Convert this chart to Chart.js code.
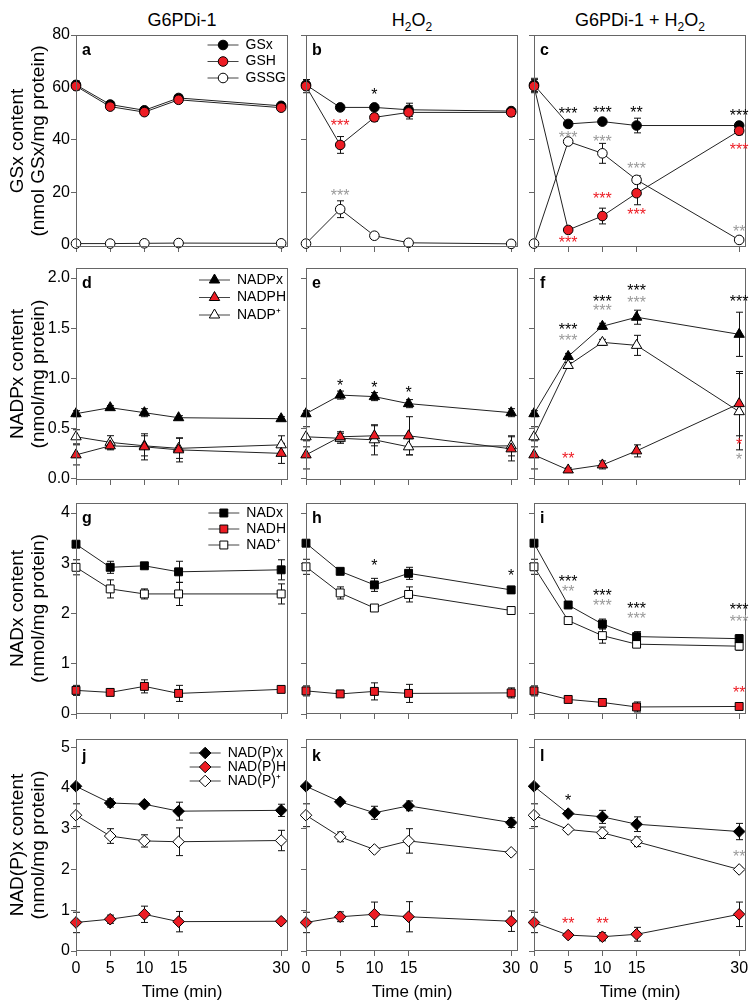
<!DOCTYPE html>
<html>
<head>
<meta charset="utf-8">
<script src="https://cdn.jsdelivr.net/npm/chart.js@4.4.0/dist/chart.umd.min.js"></script>
<style>
  html, body { margin: 0; padding: 0; background: #fff; }
  #fig { position: relative; width: 750px; height: 1005px; overflow: hidden;
         font-family: "Liberation Sans", Arial, sans-serif; }
  .head { position: absolute; top: 9px; width: 240px; text-align: center;
          font-size: 18px; line-height: 22px; color: #000; }
  .head sub { font-size: 12px; line-height: 0; }
  canvas { position: absolute; }
</style>
</head>
<body>
<div id="fig">
  <div class="head" style="left:62px">G6PDi-1</div>
  <div class="head" style="left:292px">H<sub>2</sub>O<sub>2</sub></div>
  <div class="head" style="left:520px">G6PDi-1 + H<sub>2</sub>O<sub>2</sub></div>
</div>
<script>
'use strict';

/* ===== data ===== */
const times = [0, 5, 10, 15, 30];
const xTicks = [0, 5, 10, 15, 30];

const gsTicks = [0, 20, 40, 60, 80];
const nadpTicks = [0, 0.5, 1.0, 1.5, 2.0];
const nadTicks = [0, 1, 2, 3, 4];
const nadpxTicks = [0, 1, 2, 3, 4, 5];

// a: G6PDi-1, glutathione
const aGSx = [61, 53.5, 51.3, 56, 53];
const aGSH = [60.5, 52.7, 50.6, 55.3, 52.3];
const aGSSG = [0.5, 0.5, 0.6, 0.7, 0.6];
const aGSxErr = [1.5, 1, 1, 1, 1];
const aGSHErr = [1.5, 1, 1, 1, 1];
const aGSSGErr = [0.2, 0.2, 0.2, 0.2, 0.2];

// b: H2O2
const bGSx = [61, 52.4, 52.4, 51.5, 51];
const bGSH = [60.5, 38.1, 48.6, 50.5, 50.5];
const bGSSG = [0.5, 13.6, 3.5, 0.8, 0.4];
const bGSxErr = [2, 1, 1, 2.5, 1];
const bGSHErr = [2.5, 3.2, 1.5, 2.5, 1.5];
const bGSSGErr = [0.3, 3.2, 0.8, 0.3, 0.2];
const bStars = [[10, 58.6, '*', 'k'], [5, 47, '***', 'r'], [5, 20.3, '***', 'g']];

// c: G6PDi-1 + H2O2
const cGSx = [61, 46.1, 47, 45.5, 45.5];
const cGSH = [60.5, 5.7, 11, 19.7, 43.5];
const cGSSG = [0.5, 39.4, 34.9, 24.8, 1.9];
const cGSxErr = [2.5, 1, 1, 2.8, 1.2];
const cGSHErr = [2.5, 1, 3, 4.4, 1.5];
const cGSSGErr = [0.3, 1, 3.8, 1.5, 0.5];
const cStars = [
  [5, 51.4, '***', 'k'], [10, 52, '***', 'k'], [15, 51.8, '**', 'k'], [30, 50.7, '***', 'k'],
  [5, 42.5, '***', 'g'], [10, 41, '***', 'g'], [15, 30.7, '***', 'g'], [30, 6.5, '**', 'g'],
  [5, 2.3, '***', 'r'], [10, 19.3, '***', 'r'], [15, 13, '***', 'r'], [30, 37.7, '***', 'r']
];

// d-f: NADP
const dX = [0.65, 0.71, 0.66, 0.61, 0.6];
const dH = [0.24, 0.33, 0.32, 0.29, 0.255];
const dOx = [0.42, 0.365, 0.33, 0.305, 0.34];
const dXErr = [0.03, 0.02, 0.04, 0.02, 0.02];
const dHErr = [0.1, 0.04, 0.13, 0.12, 0.1];
const dOxErr = [0.07, 0.066, 0.1, 0.1, 0.09];

const eX = [0.65, 0.835, 0.82, 0.75, 0.66];
const eH = [0.24, 0.42, 0.43, 0.43, 0.30];
const eOx = [0.42, 0.405, 0.39, 0.32, 0.33];
const eXErr = [0.03, 0.04, 0.04, 0.04, 0.04];
const eHErr = [0.14, 0.05, 0.1, 0.19, 0.12];
const eOxErr = [0.1, 0.05, 0.15, 0.08, 0.1];
const eStars = [[5, 0.97, '*', 'k'], [10, 0.95, '*', 'k'], [15, 0.9, '*', 'k']];

const fX = [0.65, 1.22, 1.52, 1.61, 1.44];
const fH = [0.24, 0.09, 0.14, 0.28, 0.75];
const fOx = [0.42, 1.13, 1.36, 1.33, 0.67];
const fXErr = [0.03, 0.03, 0.03, 0.07, 0.22];
const fHErr = [0.14, 0.02, 0.04, 0.06, 0.32];
const fOxErr = [0.1, 0.03, 0.03, 0.1, 0.38];
const fStars = [
  [5, 1.53, '***', 'k'], [10, 1.8, '***', 'k'], [15, 1.91, '***', 'k'], [30, 1.8, '***', 'k'],
  [5, 1.42, '***', 'g'], [10, 1.71, '***', 'g'], [15, 1.79, '***', 'g'],
  [5, 0.24, '**', 'r'], [30, 0.38, '*', 'r'], [30, 0.23, '*', 'g']
];

// g-i: NAD
const gX = [3.38, 2.92, 2.95, 2.83, 2.87];
const gH = [0.47, 0.43, 0.55, 0.41, 0.49];
const gOx = [2.92, 2.49, 2.39, 2.39, 2.39];
const gXErr = [0.05, 0.12, 0.05, 0.21, 0.2];
const gHErr = [0.1, 0.05, 0.13, 0.16, 0.05];
const gOxErr = [0.15, 0.18, 0.1, 0.23, 0.2];

const hX = [3.4, 2.84, 2.57, 2.8, 2.47];
const hH = [0.46, 0.4, 0.45, 0.41, 0.42];
const hOx = [2.93, 2.41, 2.11, 2.38, 2.06];
const hXErr = [0.05, 0.05, 0.13, 0.12, 0.07];
const hHErr = [0.1, 0.05, 0.17, 0.18, 0.1];
const hOxErr = [0.15, 0.12, 0.05, 0.15, 0.05];
const hStars = [[10, 3.04, '*', 'k'], [30, 2.83, '*', 'k']];

const iX = [3.4, 2.17, 1.79, 1.54, 1.5];
const iH = [0.46, 0.29, 0.23, 0.14, 0.15];
const iOx = [2.93, 1.86, 1.56, 1.39, 1.35];
const iXErr = [0.05, 0.05, 0.1, 0.1, 0.08];
const iHErr = [0.1, 0.04, 0.05, 0.1, 0.04];
const iOxErr = [0.15, 0.05, 0.15, 0.05, 0.08];
const iStars = [
  [5, 2.72, '***', 'k'], [10, 2.44, '***', 'k'], [15, 2.18, '***', 'k'], [30, 2.16, '***', 'k'],
  [5, 2.52, '**', 'g'], [10, 2.24, '***', 'g'], [15, 1.98, '***', 'g'], [30, 1.92, '***', 'g'],
  [30, 0.51, '**', 'r']
];

// j-l: NAD(P)
const jX = [4.04, 3.63, 3.6, 3.43, 3.45];
const jH = [0.70, 0.78, 0.9, 0.72, 0.73];
const jOx = [3.33, 2.82, 2.7, 2.68, 2.71];
const jXErr = [0.05, 0.1, 0.05, 0.22, 0.15];
const jHErr = [0.25, 0.1, 0.2, 0.25, 0.05];
const jOxErr = [0.28, 0.18, 0.15, 0.34, 0.25];

const kX = [4.04, 3.66, 3.39, 3.56, 3.15];
const kH = [0.70, 0.84, 0.9, 0.84, 0.73];
const kOx = [3.33, 2.8, 2.49, 2.7, 2.42];
const kXErr = [0.05, 0.05, 0.16, 0.12, 0.12];
const kHErr = [0.25, 0.12, 0.3, 0.37, 0.25];
const kOxErr = [0.28, 0.12, 0.05, 0.3, 0.05];

const lX = [4.04, 3.37, 3.29, 3.11, 2.93];
const lH = [0.70, 0.39, 0.35, 0.41, 0.9];
const lOx = [3.33, 2.98, 2.9, 2.68, 2.0];
const lXErr = [0.05, 0.05, 0.16, 0.18, 0.2];
const lHErr = [0.25, 0.05, 0.1, 0.17, 0.3];
const lOxErr = [0.28, 0.05, 0.14, 0.12, 0.05];
const lStars = [[5, 3.78, '*', 'k'], [5, 0.78, '**', 'r'], [10, 0.78, '**', 'r'], [30, 2.4, '**', 'g']];

/* ===== layout / style ===== */
const FONT = '"Liberation Sans", Arial, sans-serif';
const RED = '#ed1c24';
const starColors = { k: '#000', r: RED, g: '#9a9a9a' };
const fills = ['#000', RED, '#fff'];
const AXIS = '#666';

const cols = [76, 306, 534];
const PW = 212;

const rows = [
  { top: 35, h: 212, min: -0.8, max: 80, ticks: gsTicks, dec: 0, style: 'circle', r: 4.8,
    title: ['GSx content', '(nmol GSx/mg protein)'], names: ['GSx', 'GSH', 'GSSG'],
    legend: { dy: 10, gap: 16.5 } },
  { top: 268, h: 212, min: -0.01, max: 2.1, ticks: nadpTicks, dec: 1, style: 'triangle', r: 6,
    title: ['NADPx content', '(nmol/mg protein)'], names: ['NADPx', 'NADPH', 'NADP\u207A'],
    legend: { dy: 12, gap: 17.5 } },
  { top: 503, h: 211, min: 0, max: 4.2, ticks: nadTicks, dec: 0, style: 'rect', r: 5.6,
    title: ['NADx content', '(nmol/mg protein)'], names: ['NADx', 'NADH', 'NAD\u207A'],
    legend: { dy: 10, gap: 16 } },
  { top: 739, h: 212, min: 0, max: 5.2, ticks: nadpxTicks, dec: 0, style: 'rectRot', r: 5.8,
    title: ['NAD(P)x content', '(nmol/mg protein)'], names: ['NAD(P)x', 'NAD(P)H', 'NAD(P)\u207A'],
    legend: { dy: 14, gap: 14 } }
];

const panels = [
  { id: 'a', row: 0, col: 0, sets: [aGSx, aGSH, aGSSG], errs: [aGSxErr, aGSHErr, aGSSGErr], stars: [] },
  { id: 'b', row: 0, col: 1, sets: [bGSx, bGSH, bGSSG], errs: [bGSxErr, bGSHErr, bGSSGErr], stars: bStars },
  { id: 'c', row: 0, col: 2, sets: [cGSx, cGSH, cGSSG], errs: [cGSxErr, cGSHErr, cGSSGErr], stars: cStars },
  { id: 'd', row: 1, col: 0, sets: [dX, dH, dOx], errs: [dXErr, dHErr, dOxErr], stars: [] },
  { id: 'e', row: 1, col: 1, sets: [eX, eH, eOx], errs: [eXErr, eHErr, eOxErr], stars: eStars },
  { id: 'f', row: 1, col: 2, sets: [fX, fH, fOx], errs: [fXErr, fHErr, fOxErr], stars: fStars },
  { id: 'g', row: 2, col: 0, sets: [gX, gH, gOx], errs: [gXErr, gHErr, gOxErr], stars: [] },
  { id: 'h', row: 2, col: 1, sets: [hX, hH, hOx], errs: [hXErr, hHErr, hOxErr], stars: hStars },
  { id: 'i', row: 2, col: 2, sets: [iX, iH, iOx], errs: [iXErr, iHErr, iOxErr], stars: iStars },
  { id: 'j', row: 3, col: 0, sets: [jX, jH, jOx], errs: [jXErr, jHErr, jOxErr], stars: [] },
  { id: 'k', row: 3, col: 1, sets: [kX, kH, kOx], errs: [kXErr, kHErr, kOxErr], stars: [] },
  { id: 'l', row: 3, col: 2, sets: [lX, lH, lOx], errs: [lXErr, lHErr, lOxErr], stars: lStars }
];

Chart.defaults.font.family = FONT;
Chart.defaults.color = '#000';

/* ===== plugin: error bars, frame, stars, letter, legend ===== */
const panelDecor = {
  id: 'panelDecor',
  beforeDatasetsDraw(chart) {
    const { ctx } = chart;
    const ys = chart.scales.y;
    ctx.save();
    ctx.strokeStyle = '#111';
    ctx.lineWidth = 1;
    chart.data.datasets.forEach((ds, i) => {
      chart.getDatasetMeta(i).data.forEach((pt, j) => {
        const e = ds.errors[j];
        if (!e) return;
        const v = ds.data[j].y;
        const y1 = ys.getPixelForValue(v + e);
        const y2 = ys.getPixelForValue(v - e);
        const x = Math.round(pt.x) + 0.5;
        ctx.beginPath();
        ctx.moveTo(x, y1); ctx.lineTo(x, y2);
        ctx.moveTo(x - 3.5, y1); ctx.lineTo(x + 3.5, y1);
        ctx.moveTo(x - 3.5, y2); ctx.lineTo(x + 3.5, y2);
        ctx.stroke();
      });
    });
    ctx.restore();
  },
  afterDatasetsDraw(chart, args, opts) {
    const { ctx, chartArea: ca } = chart;
    const xs = chart.scales.x, ys = chart.scales.y;
    ctx.save();

    // frame
    ctx.strokeStyle = AXIS;
    ctx.lineWidth = 1;
    ctx.strokeRect(Math.round(ca.left) + 0.5, Math.round(ca.top) + 0.5,
      Math.round(ca.right - ca.left) - 1, Math.round(ca.bottom - ca.top) - 1);

    // significance stars
    ctx.font = '16px ' + FONT;
    ctx.textAlign = 'center';
    ctx.textBaseline = 'alphabetic';
    (opts.stars || []).forEach(([t, v, txt, c]) => {
      ctx.fillStyle = starColors[c];
      ctx.fillText(txt, xs.getPixelForValue(t), ys.getPixelForValue(v) + 9.3);
    });

    // panel letter
    ctx.fillStyle = '#000';
    ctx.textAlign = 'left';
    ctx.font = 'bold 16px ' + FONT;
    ctx.fillText(opts.letter, ca.left + 6, ca.top + opts.letterDy);

    // legend
    if (opts.legend) {
      const lg = opts.legend;
      const items = chart.data.datasets;
      ctx.font = '14px ' + FONT;
      const maxW = Math.max(...items.map(d => ctx.measureText(d.label).width));
      const tx = ca.right - 2 - maxW;
      items.forEach((d, i) => {
        const yy = ca.top + lg.dy + i * lg.gap;
        ctx.strokeStyle = '#444';
        ctx.lineWidth = 1;
        ctx.beginPath();
        ctx.moveTo(tx - 38, yy); ctx.lineTo(tx - 7, yy);
        ctx.stroke();
        ctx.fillStyle = d.pointBackgroundColor;
        ctx.strokeStyle = '#000';
        Chart.helpers.drawPoint(ctx, { pointStyle: d.pointStyle, radius: d.pointRadius,
          borderWidth: 1, rotation: 0 }, tx - 22.5, yy);
        ctx.fillStyle = '#000';
        ctx.textBaseline = 'middle';
        ctx.fillText(d.label, tx, yy);
      });
    }
    ctx.restore();
  }
};

/* ===== build panels ===== */
const fig = document.getElementById('fig');

panels.forEach(p => {
  const row = rows[p.row];
  const first = p.col === 0;
  const bottom = p.row === 3;
  const yW = first ? 76 : 8;
  const padTop = 14, padRight = 14;
  const xH = bottom ? 1005 - (row.top + row.h) : 8;
  const padBottom = bottom ? 0 : 6;
  const w = yW + PW + padRight;
  const h = padTop + row.h + xH + padBottom;

  const canvas = document.createElement('canvas');
  canvas.width = w;
  canvas.height = h;
  canvas.style.width = w + 'px';
  canvas.style.height = h + 'px';
  canvas.style.left = (cols[p.col] - yW) + 'px';
  canvas.style.top = (row.top - padTop) + 'px';
  fig.appendChild(canvas);

  const datasets = p.sets.map((vals, k) => ({
    label: row.names[k],
    data: times.map((t, i) => ({ x: t, y: vals[i] })),
    errors: p.errs[k],
    borderColor: '#222',
    borderWidth: 1,
    pointStyle: row.style,
    pointRadius: row.r,
    pointBackgroundColor: fills[k],
    pointBorderColor: '#000',
    pointBorderWidth: 1,
    order: [1, 0, 2][k],
    clip: false,
    tension: 0,
    fill: false
  }));

  new Chart(canvas, {
    type: 'line',
    data: { datasets },
    plugins: [panelDecor],
    options: {
      responsive: false,
      animation: false,
      events: [],
      layout: { padding: { left: 0, top: padTop, right: padRight, bottom: padBottom } },
      scales: {
        x: {
          type: 'linear',
          min: 0,
          max: 31,
          afterBuildTicks: s => { s.ticks = xTicks.map(v => ({ value: v })); },
          afterFit: s => { s.height = xH; },
          ticks: { display: bottom, font: { size: 16 }, color: '#000', padding: 3,
            maxRotation: 0, autoSkip: false, callback: v => String(v) },
          grid: { drawOnChartArea: false, drawTicks: true, tickLength: 5, color: AXIS },
          border: { display: false },
          title: { display: bottom, text: 'Time (min)', color: '#000',
            font: { size: 17 }, padding: { top: 0, bottom: 2 } }
        },
        y: {
          type: 'linear',
          min: row.min,
          max: row.max,
          afterBuildTicks: s => { s.ticks = row.ticks.map(v => ({ value: v })); },
          afterFit: s => { s.width = yW; },
          ticks: { display: first, font: { size: 16 }, color: '#000', padding: 1,
            callback: v => Number(v).toFixed(row.dec) },
          grid: { drawOnChartArea: false, drawTicks: true, tickLength: 5, color: AXIS },
          border: { display: false },
          title: { display: first, text: row.title, color: '#000',
            font: { size: 19, lineHeight: 1.1 }, padding: { top: 7, bottom: 0 } }
        }
      },
      plugins: {
        legend: { display: false },
        tooltip: { enabled: false },
        panelDecor: {
          stars: p.stars,
          letter: p.id,
          letterDy: bottom ? 22 : 20,
          legend: first ? row.legend : null
        }
      }
    }
  });
});
</script>
</body>
</html>
